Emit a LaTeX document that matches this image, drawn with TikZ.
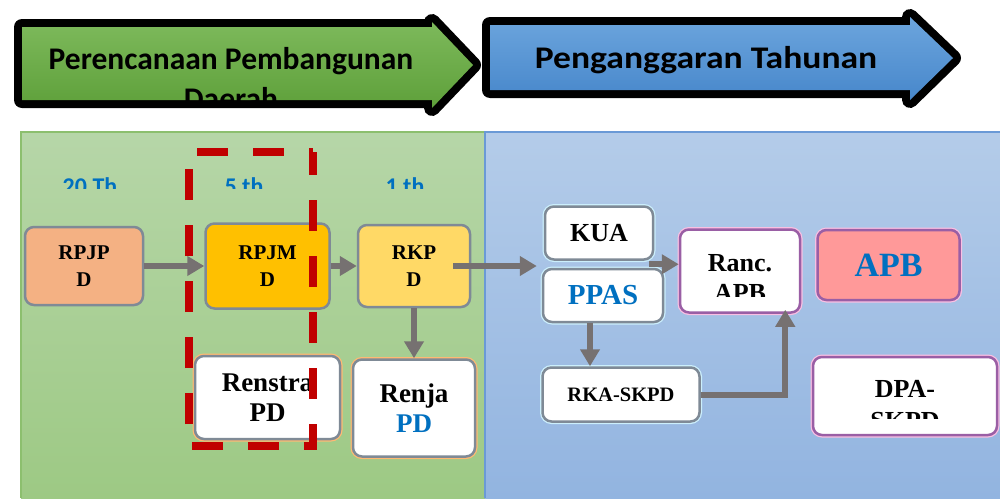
\documentclass[tikz,border=0pt]{standalone}
\usepackage{fontspec}
\setmainfont{Liberation Serif}
\newfontfamily\headfont{Carlito}
\newfontfamily\headfontwide[FakeStretch=1.13]{Carlito}
\usetikzlibrary{arrows.meta, positioning, calc}
\definecolor{txtblue}{HTML}{0070C0}
\definecolor{rpjp}{HTML}{F4B183}
\definecolor{rpjm}{HTML}{FFC000}
\definecolor{rkp}{HTML}{FFD966}
\definecolor{apbred}{HTML}{FF9999}
\definecolor{boxgray}{HTML}{7F8A96}
\definecolor{purp}{HTML}{9A5FA5}
\definecolor{flowgray}{HTML}{767171}
\definecolor{dashred}{HTML}{C00000}
\definecolor{greenTop}{HTML}{B6D6A8}
\definecolor{greenBot}{HTML}{9DC984}
\definecolor{greenEdge}{HTML}{8CBF6E}
\definecolor{blueTop}{HTML}{B4CCE9}
\definecolor{blueBot}{HTML}{92B4E0}
\definecolor{blueEdge}{HTML}{6A9AD6}
\definecolor{arrGreenTop}{HTML}{7DB95B}
\definecolor{arrGreenBot}{HTML}{5EA03A}
\definecolor{arrBlueTop}{HTML}{6CA5DD}
\definecolor{arrBlueBot}{HTML}{4787CB}
\tikzset{
every node/.style={inner sep=0pt}, % tight nodes, sizes come from minimum width/height
}

\begin{document}
\begin{tikzpicture}[x=1pt,y=-1pt,>={Triangle[length=17pt,width=19pt]}]
\tikzstyle{box}=[rectangle,rounded corners=9pt,draw=boxgray,line width=2.5pt,align=center,font=\bfseries\fontsize{21}{27}\selectfont]
\tikzstyle{plan}=[box,fill=white,preaction={draw=orange!55,line width=5pt},font=\bfseries\fontsize{27}{30}\selectfont]
\tikzstyle{budget}=[box,fill=white,preaction={draw=white!80!cyan,line width=5pt},font=\bfseries\fontsize{26}{32}\selectfont]
\tikzstyle{final}=[box,draw=purp,preaction={draw=magenta!25,line width=5pt},font=\bfseries\fontsize{26}{32}\selectfont]
\tikzstyle{flow}=[->,draw=flowgray,line width=6pt]
\tikzstyle{header}=[align=center,font=\headfont\bfseries\fontsize{31.5}{40}\selectfont]
\tikzstyle{period}=[anchor=base,text=txtblue,font=\headfont\bfseries\fontsize{24}{24}\selectfont]
\useasboundingbox (0,0) rectangle (1000,498);

% header arrows
\path[preaction={draw=black,line width=16pt,line join=round},top color=arrGreenTop,bottom color=arrGreenBot]
  (22,27) -- (432,27) -- (432,22) -- (473,65) -- (432,108) -- (432,100) -- (22,100) -- cycle;
\path[preaction={draw=black,line width=16pt,line join=round},top color=arrBlueTop,bottom color=arrBlueBot]
  (490,25) -- (910,25) -- (910,17) -- (953,58) -- (910,100) -- (910,90) -- (490,90) -- cycle;
\begin{scope}
\clip (22,27) rectangle (432,100);
\node[header,anchor=north] (plantitle) at (231,47) {Perencanaan Pembangunan\\Daerah};
\end{scope}
\node[header,anchor=base,font=\headfontwide\bfseries\fontsize{31.5}{38}\selectfont] (budgettitle) at (706,68) {Penganggaran Tahunan};

% panels
\shade[top color=greenTop,bottom color=greenBot] (21,132) rectangle (485,498);
\shade[top color=blueTop,bottom color=blueBot] (485,132) rectangle (1000,498);
\draw[greenEdge,line width=1.5pt] (21,498) -- (21,132) -- (485,132);
\draw[blueEdge,line width=1.5pt] (485,498) -- (485,132) -- (1000,132);

\begin{scope}
\clip (0,132) rectangle (485,188);
\node[period] (th20) at (90,194) {20 Th};
\node[period] (th5) at (244,194) {5 th};
\node[period] (th1) at (405,194) {1 th};
\end{scope}

% planning side
\node[box,fill=rpjp,minimum width=118pt,minimum height=78pt] (RPJPD) at (84,266) {RPJP\\D};
\node[box,fill=rpjm,minimum width=124pt,minimum height=85pt,right=60pt of RPJPD] (RPJMD) {RPJM\\D};
\node[box,fill=rkp,minimum width=112pt,minimum height=82pt,right=26pt of RPJMD] (RKPD) {RKP\\D};
\node[plan,minimum width=145pt,minimum height=83pt,below=45pt of RPJMD] (Renstra) {Renstra\\PD};
\node[plan,minimum width=122pt,minimum height=97pt,below=50pt of RKPD] (Renja) {Renja\\\textcolor{txtblue}{PD}};

% budgeting side
\node[budget,minimum width=108pt,minimum height=53pt] (KUA) at (599,233) {KUA};
\node[budget,minimum width=120pt,minimum height=53pt,below=7pt of KUA,xshift=4pt,text=txtblue,font=\bfseries\fontsize{29}{32}\selectfont] (PPAS) {PPAS};
\node[budget,minimum width=157pt,minimum height=54pt,below=43pt of PPAS,xshift=18pt,font=\bfseries\fontsize{20.5}{24}\selectfont] (RKA) {RKA-SKPD};
\node[final,fill=white,minimum width=120pt,minimum height=83pt] (Ranc) at (740,271) {};
\node[final,fill=apbred,minimum width=142pt,minimum height=70pt,right=15pt of Ranc,yshift=6pt,text=txtblue,font=\bfseries\fontsize{34}{34}\selectfont] (APB) {APB};
\node[final,fill=white,minimum width=184pt,minimum height=78pt] (DPA) at (905,396) {};
\begin{scope}
\clip (680,230) rectangle (800,296);
\node[align=center,anchor=north,font=\bfseries\fontsize{26}{30}\selectfont] (RancTxt) at (740,254) {Ranc.\\APB};
\end{scope}
\begin{scope}
\clip (813,357) rectangle (997,418);
\node[align=center,anchor=north,font=\bfseries\fontsize{26}{32}\selectfont] (DPATxt) at (905,380) {DPA-\\SKPD};
\end{scope}

\coordinate (kuaIn) at ($(KUA.south west)!0.5!(PPAS.north west)$);
\coordinate (kuaOut) at ($(KUA.south east)!0.5!(PPAS.north east)$);

% connectors
\draw[flow] (RPJPD) -- (RPJMD);
\draw[flow] (RPJMD.east) -- (RPJMD.east -| RKPD.west);
\draw[flow] (RKPD) -- (Renja);
\draw[flow] ([xshift=-18pt]RKPD.east) -- ([xshift=-6pt]RKPD.east -| kuaIn);
\draw[flow] ([xshift=-10pt]kuaOut) -- (kuaOut -| Ranc.west);
\draw[flow] ([xshift=-13pt]PPAS.south) -- ([xshift=-13pt]PPAS.south |- RKA.north);
\draw[flow] (RKA.east) -| ([xshift=-16pt,yshift=4pt]Ranc.south east);

% five year frame
\draw[dashred,line width=8pt,dash pattern=on 31pt off 25pt,dash phase=8pt] (313,152) -- (313,446) -- (189,446) -- (189,152) -- cycle;
\end{tikzpicture}
\end{document}
